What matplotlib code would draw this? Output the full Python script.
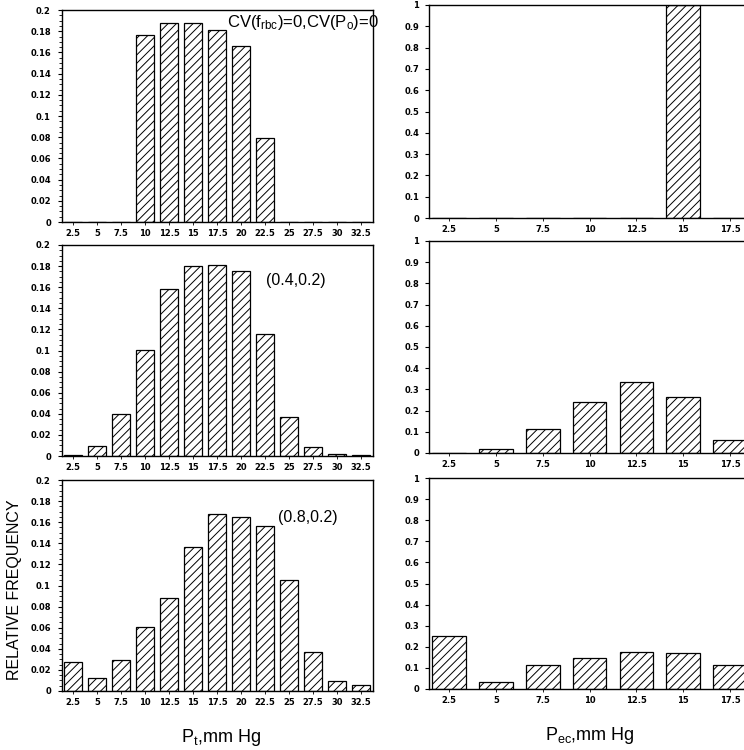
import matplotlib.pyplot as plt
from matplotlib.ticker import MultipleLocator

plt.rcParams['hatch.linewidth'] = 0.7
plt.rcParams['mathtext.fontset'] = 'custom'
plt.rcParams['mathtext.rm'] = 'Liberation Sans'
plt.rcParams['mathtext.it'] = 'Liberation Sans:italic'

# bin centres (mm Hg)
pt_bins = [2.5, 5, 7.5, 10, 12.5, 15, 17.5, 20, 22.5, 25, 27.5, 30, 32.5]
pec_bins = [2.5, 5, 7.5, 10, 12.5, 15, 17.5]

# relative frequency of tissue PO2, one list per case
pt_case0 = [0, 0, 0, 0.176, 0.188, 0.188, 0.181, 0.166, 0.079, 0, 0, 0, 0]
pt_case1 = [0.0008, 0.0095, 0.040, 0.1005, 0.1586, 0.1804, 0.1814, 0.175,
            0.1156, 0.037, 0.0085, 0.002, 0.001]
pt_case2 = [0.0278, 0.0126, 0.0294, 0.0607, 0.0878, 0.1368, 0.1678, 0.1652,
            0.156, 0.105, 0.0366, 0.0095, 0.0057]

# relative frequency of end-capillary PO2
pec_case0 = [0, 0, 0, 0, 0, 1.0, 0]
pec_case1 = [0.002, 0.017, 0.112, 0.240, 0.336, 0.264, 0.060]
pec_case2 = [0.253, 0.035, 0.112, 0.146, 0.174, 0.169, 0.114]

case_labels = [r'CV(f$_{\mathrm{rbc}}$)=0,CV(P$_{\mathrm{o}}$)=0', '(0.4,0.2)', '(0.8,0.2)']

W, H = 744, 750
fig = plt.figure(figsize=(W / 100, H / 100), dpi=100)

def box(x0, x1, ytop, ybot):
    # pixel box -> figure fraction
    return [x0 / W, 1 - ybot / H, (x1 - x0) / W, (ybot - ytop) / H]

left_rows = [(10, 222), (245, 456), (480, 691)]
right_rows = [(5, 218), (241, 453), (478, 689)]

tick_font = dict(fontsize=6, fontweight='bold')
sans = ['Liberation Sans', 'DejaVu Sans']

for i, (pt, pec) in enumerate(zip([pt_case0, pt_case1, pt_case2],
                                  [pec_case0, pec_case1, pec_case2])):
    # tissue PO2 histogram
    ax = fig.add_axes(box(62, 373, *left_rows[i]))
    ax.bar(pt_bins, pt, width=1.9, color='white', edgecolor='black',
           linewidth=0.9, hatch='////')
    ax.set_xlim(1.35, 33.75)
    ax.set_ylim(0, 0.2)
    ax.set_xticks(pt_bins)
    ax.set_xticklabels([f'{b:g}' for b in pt_bins], **tick_font)
    ax.yaxis.set_minor_locator(MultipleLocator(0.005))
    ax.set_yticks([j * 0.02 for j in range(11)])
    ax.set_yticklabels(['0'] + [f'{j * 0.02:g}' for j in range(1, 11)], **tick_font)
    ax.tick_params(axis='y', which='major', length=3, width=0.8, pad=5)
    ax.tick_params(axis='y', which='minor', length=2, width=0.6)
    ax.tick_params(axis='x', length=2, width=0.6, pad=3)
    for s in ax.spines.values():
        s.set_linewidth(1.0)
    if i == 0:
        ax.text(0.53, 0.985, case_labels[i], transform=ax.transAxes, fontsize=12,
                family=sans, ha='left', va='top')
    else:
        ax.text(0.655 if i == 1 else 0.693, 0.834 if i == 1 else 0.82, case_labels[i],
                transform=ax.transAxes, fontsize=11.5,
                family=sans, ha='left', va='center')

    # end-capillary PO2 histogram (axes runs past the right edge of the figure)
    ax2 = fig.add_axes(box(429, 760, *right_rows[i]))
    ax2.bar(pec_bins, pec, width=1.8, color='white', edgecolor='black',
            linewidth=0.9, hatch='////')
    ax2.set_xlim(1.43, 19.1)
    ax2.set_ylim(0, 1)
    ax2.set_xticks(pec_bins)
    ax2.set_xticklabels([f'{b:g}' for b in pec_bins], **tick_font)
    ax2.set_yticks([j / 10 for j in range(11)])
    ax2.set_yticklabels(['0'] + [f'{j / 10:g}' for j in range(1, 10)] + ['1'], **tick_font)
    ax2.tick_params(axis='y', length=3, width=0.8, pad=4)
    ax2.tick_params(axis='x', length=2, width=0.6, pad=3)
    for s in ax2.spines.values():
        s.set_linewidth(1.0)

fig.text(15 / W, 1 - 590 / H, 'RELATIVE FREQUENCY', rotation=90, fontsize=11.5,
         family=sans, ha='center', va='center')
fig.text(221 / W, 1 - 737 / H, r'P$_{\mathrm{t}}$,mm Hg', fontsize=13,
         family=sans, ha='center', va='center')
fig.text(590 / W, 1 - 735 / H, r'P$_{\mathrm{ec}}$,mm Hg', fontsize=13,
         family=sans, ha='center', va='center')

fig.savefig('out.png', dpi=100)
